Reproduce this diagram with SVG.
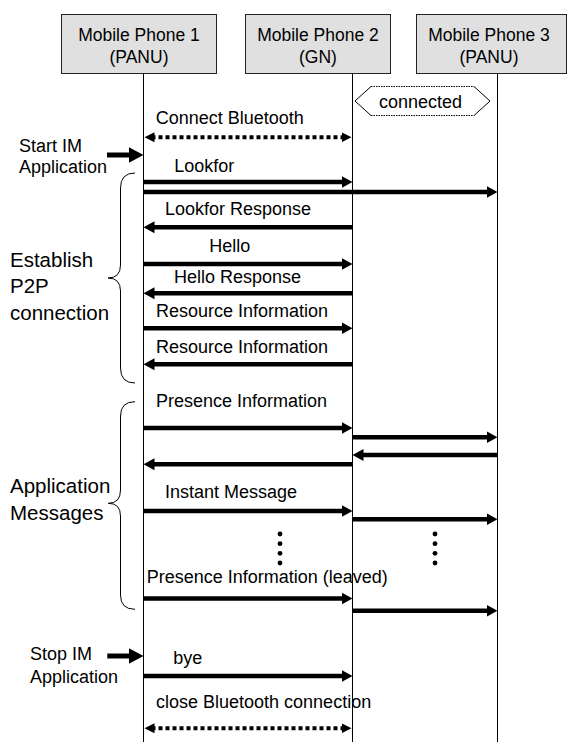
<svg xmlns="http://www.w3.org/2000/svg" width="567" height="742" viewBox="0 0 567 742">
<defs>
<style>
text{font-family:"Liberation Sans",Arial,sans-serif;fill:#000}
.hdr{font-size:17.5px;text-anchor:middle}
.msg{font-size:18px}
.big{font-size:20.5px}
.box{fill:#e0e0e0;stroke:#222;stroke-width:1}
.life{stroke:#000;stroke-width:1;fill:none}
.arr{stroke:#000;stroke-width:4.5;fill:none;marker-end:url(#head)}
.dot{stroke:#000;stroke-width:4;stroke-dasharray:4 3;fill:none;marker-start:url(#dhead);marker-end:url(#dhead)}
.trig{stroke:#000;stroke-width:5;fill:none;marker-end:url(#bighead)}
.brace{stroke:#000;stroke-width:1;fill:none}
</style>
<marker id="head" markerUnits="userSpaceOnUse" markerWidth="12" markerHeight="13" viewBox="0 0 12 13" refX="3" refY="6.5" orient="auto"><path d="M0,0.5 L11,6.5 L0,12.5 z" fill="#000"/></marker>
<marker id="dhead" markerUnits="userSpaceOnUse" markerWidth="11" markerHeight="11" viewBox="0 0 11 11" refX="3" refY="5.5" orient="auto-start-reverse"><path d="M0,0.5 L10,5.5 L0,10.5 z" fill="#000"/></marker>
<marker id="bighead" markerUnits="userSpaceOnUse" markerWidth="16" markerHeight="17" viewBox="0 0 16 17" refX="3" refY="8.5" orient="auto"><path d="M0,0.5 L15,8.5 L0,16.5 z" fill="#000"/></marker>
</defs>

<g id="phone1">
<rect class="box" x="61.5" y="14.5" width="155" height="59"/>
<text class="hdr" x="139" y="41">Mobile Phone 1</text>
<text class="hdr" x="139" y="63">(PANU)</text>
<line class="life" x1="143.5" y1="73.5" x2="143.5" y2="742"/>
</g>
<g id="phone2">
<rect class="box" x="245.5" y="14.5" width="145" height="59"/>
<text class="hdr" x="318" y="41">Mobile Phone 2</text>
<text class="hdr" x="318" y="63">(GN)</text>
<line class="life" x1="352.5" y1="73.5" x2="352.5" y2="742"/>
</g>
<g id="phone3">
<rect class="box" x="416.5" y="14.5" width="150" height="59"/>
<text class="hdr" x="489" y="41">Mobile Phone 3</text>
<text class="hdr" x="489" y="63">(PANU)</text>
<line class="life" x1="497.5" y1="73.5" x2="497.5" y2="742"/>
</g>

<g id="connected">
<path d="M371,86.5 L355,101 L371,115.5 M474,86.5 L490,101 L474,115.5" fill="none" stroke="#000" stroke-width="1"/>
<path d="M371,86.5 H474 M371,115.5 H474" fill="none" stroke="#000" stroke-width="1.2" stroke-dasharray="1.5 1"/>
<text class="msg" x="420.5" y="107.5" text-anchor="middle">connected</text>
</g>

<g id="labels">
<text class="msg" x="19" y="151.5">Start IM</text>
<text class="msg" x="19" y="173">Application</text>
<text class="big" x="10" y="266.7">Establish</text>
<text class="big" x="10" y="293.3">P2P</text>
<text class="big" x="10" y="320">connection</text>
<text class="big" x="10" y="493.3">Application</text>
<text class="big" x="10" y="520">Messages</text>
<text class="msg" x="30" y="660">Stop IM</text>
<text class="msg" x="30" y="683">Application</text>
<path class="brace" d="M135,173 Q120.5,173 120.5,188 L120.5,265 Q120.5,278 108,278 Q120.5,278 120.5,291 L120.5,368 Q120.5,383 135,383"/>
<path class="brace" d="M135,401.7 Q120.5,401.7 120.5,416 L120.5,490 Q120.5,503.3 108.3,503.3 Q120.5,503.3 120.5,516 L120.5,595 Q120.5,609.3 135,609.3"/>
</g>

<g id="message-labels">
<text class="msg" x="155.7" y="124">Connect Bluetooth</text>
<text class="msg" x="174.3" y="171.7">Lookfor</text>
<text class="msg" x="165" y="215">Lookfor Response</text>
<text class="msg" x="209.3" y="251.7">Hello</text>
<text class="msg" x="174" y="282.7">Hello Response</text>
<text class="msg" x="156" y="317.3">Resource Information</text>
<text class="msg" x="156" y="352.7">Resource Information</text>
<text class="msg" x="156" y="406.7">Presence Information</text>
<text class="msg" x="165" y="498.3">Instant Message</text>
<text class="msg" x="146.7" y="583.3">Presence Information (leaved)</text>
<text class="msg" x="173.3" y="664">bye</text>
<text class="msg" x="156" y="708.3">close Bluetooth connection</text>
</g>

<g id="connectors">
<line class="dot" x1="151.5" y1="137.3" x2="344.5" y2="137.3"/>
<line class="trig" x1="107" y1="155" x2="131.5" y2="155"/>
<line class="arr" x1="143.5" y1="182" x2="344.5" y2="182"/>
<line class="arr" x1="143.5" y1="192" x2="489.5" y2="192"/>
<line class="arr" x1="352.5" y1="227.3" x2="151.5" y2="227.3"/>
<line class="arr" x1="143.5" y1="264" x2="344.5" y2="264"/>
<line class="arr" x1="352.5" y1="293.3" x2="151.5" y2="293.3"/>
<line class="arr" x1="143.5" y1="328.3" x2="344.5" y2="328.3"/>
<line class="arr" x1="352.5" y1="364.3" x2="151.5" y2="364.3"/>
<line class="arr" x1="143.5" y1="428" x2="344.5" y2="428"/>
<line class="arr" x1="352.5" y1="437.3" x2="489.5" y2="437.3"/>
<line class="arr" x1="497.5" y1="455" x2="360.5" y2="455"/>
<line class="arr" x1="352.5" y1="464.2" x2="151.5" y2="464.2"/>
<line class="arr" x1="143.5" y1="511" x2="344.5" y2="511"/>
<line class="arr" x1="352.5" y1="519.3" x2="489.5" y2="519.3"/>
<line class="arr" x1="143.5" y1="598.5" x2="344.5" y2="598.5"/>
<line class="arr" x1="352.5" y1="610.7" x2="489.5" y2="610.7"/>
<line class="trig" x1="107.3" y1="656" x2="131.5" y2="656"/>
<line class="arr" x1="143.5" y1="676" x2="344.5" y2="676"/>
<line class="dot" x1="151.5" y1="728.3" x2="344.5" y2="728.3"/>
<g fill="#000">
<circle cx="280" cy="534" r="2.4"/><circle cx="280" cy="543.7" r="2.4"/><circle cx="280" cy="553.3" r="2.4"/><circle cx="280" cy="563" r="2.4"/>
<circle cx="435" cy="534" r="2.4"/><circle cx="435" cy="543.7" r="2.4"/><circle cx="435" cy="553.3" r="2.4"/><circle cx="435" cy="563" r="2.4"/>
</g>
</g>
</svg>
